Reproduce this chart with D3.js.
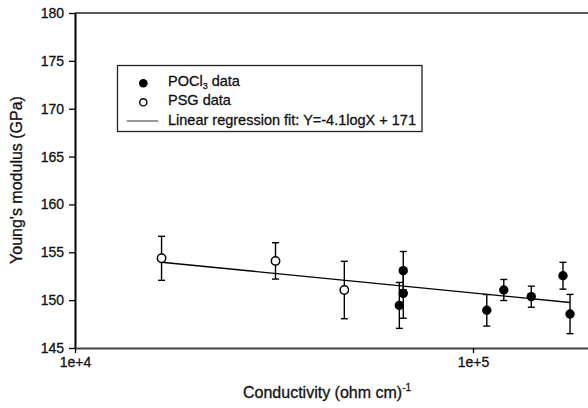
<!DOCTYPE html>
<html>
<head>
<meta charset="utf-8">
<script src="https://cdn.jsdelivr.net/npm/d3@7"></script>
<style>
  body { margin: 0; background: #fff; }
  text { font-family: "Liberation Sans", Arial, sans-serif; fill: #111; stroke: #111; stroke-width: 0.3px; }
</style>
</head>
<body>
<div id="chart"></div>
<script>
// data
let pocX = [6.68e4, 6.68e4, 6.53e4, 1.083e5, 1.195e5, 1.401e5, 1.683e5, 1.753e5]
let pocY = [153.08, 150.71, 149.45, 148.94, 151.06, 150.36, 152.55, 148.55]
let pocErr = [2.0, 2.6, 2.4, 1.65, 1.1, 1.1, 1.4, 2.05]

let psgX = [1.65e4, 3.19e4, 4.75e4]
let psgY = [154.37, 154.1, 151.06]
let psgErr = [2.3, 1.9, 3.0]

let fitSlope = -4.1, fitIntercept = 171.25
let fitX = [1.65e4, 1.753e5]

let xTicks = [1e4, 1e5]
let xTickLabels = ["1e+4", "1e+5"]
let yTicks = [145, 150, 155, 160, 165, 170, 175, 180]

let width = 588, height = 408
let plotLeft = 75, plotTop = 13, plotBottom = 348

let svg = d3.select("#chart").append("svg")
    .attr("width", width)
    .attr("height", height)

let x = d3.scaleLog().domain([1e4, 2e5]).range([plotLeft, plotLeft + 398 * Math.log10(20)])
let y = d3.scaleLinear().domain([145, 180]).range([plotBottom, plotTop])

// top frame line
svg.append("line")
    .attr("x1", plotLeft).attr("x2", width)
    .attr("y1", plotTop).attr("y2", plotTop)
    .attr("stroke", "#222").attr("stroke-width", 1.5)

// y axis
let yAxis = svg.append("g")
    .attr("transform", "translate(" + plotLeft + ",0)")
    .call(d3.axisLeft(y).tickValues(yTicks).tickSize(6).tickPadding(5).tickSizeOuter(0))
yAxis.select(".domain").attr("stroke", "#000").attr("stroke-width", 2)
yAxis.selectAll(".tick line").attr("stroke", "#000").attr("stroke-width", 1.3)
yAxis.selectAll("text").style("font-size", "14px").style("font-family", "Liberation Sans, Arial, sans-serif").attr("fill", "#111")

// x axis
let xAxis = svg.append("g")
    .attr("transform", "translate(0," + plotBottom + ")")
    .call(d3.axisBottom(x).tickValues(xTicks).tickSize(5).tickPadding(4).tickSizeOuter(0)
        .tickFormat(function (d, i) { return xTickLabels[i]; }))
xAxis.select(".domain").attr("stroke", "#444").attr("stroke-width", 2)
xAxis.selectAll(".tick line").attr("stroke", "#000").attr("stroke-width", 1.3)
xAxis.selectAll("text").style("font-size", "14px").style("font-family", "Liberation Sans, Arial, sans-serif").attr("fill", "#111")

// axis titles
svg.append("text")
    .attr("x", 243).attr("y", 398)
    .style("font-size", "16px")
    .html('Conductivity (ohm cm)<tspan dy="-7" style="font-size:10px">-1</tspan>')

svg.append("text")
    .attr("transform", "translate(22,180) rotate(-90)")
    .attr("text-anchor", "middle")
    .style("font-size", "16px")
    .text("Young's modulus (GPa)")

// error bars
function errorBars(xs, ys, es) {
    let g = svg.append("g").attr("stroke", "#000").attr("stroke-width", 1.4)
    xs.forEach(function (d, i) {
        let cx = x(d)
        g.append("line").attr("x1", cx).attr("x2", cx)
            .attr("y1", y(ys[i] + es[i])).attr("y2", y(ys[i] - es[i]))
        g.append("line").attr("x1", cx - 3.5).attr("x2", cx + 3.5)
            .attr("y1", y(ys[i] + es[i])).attr("y2", y(ys[i] + es[i]))
        g.append("line").attr("x1", cx - 3.5).attr("x2", cx + 3.5)
            .attr("y1", y(ys[i] - es[i])).attr("y2", y(ys[i] - es[i]))
    })
}
errorBars(psgX, psgY, psgErr)
errorBars(pocX, pocY, pocErr)

// regression line
let fitLine = d3.line()
    .x(function (d) { return x(d); })
    .y(function (d) { return y(fitSlope * Math.log10(d) + fitIntercept); })
svg.append("path")
    .datum(fitX)
    .attr("d", fitLine)
    .attr("fill", "none")
    .attr("stroke", "#000")
    .attr("stroke-width", 1.4)

// markers
svg.append("g").selectAll("circle")
    .data(psgX)
    .enter()
    .append("circle")
    .attr("cx", function (d) { return x(d); })
    .attr("cy", function (d, i) { return y(psgY[i]); })
    .attr("r", 4.2)
    .attr("fill", "#fff")
    .attr("stroke", "#000")
    .attr("stroke-width", 1.5)

svg.append("g").selectAll("circle")
    .data(pocX)
    .enter()
    .append("circle")
    .attr("cx", function (d) { return x(d); })
    .attr("cy", function (d, i) { return y(pocY[i]); })
    .attr("r", 4.7)
    .attr("fill", "#000")

// legend
let legend = svg.append("g")
legend.append("rect")
    .attr("x", 117.5).attr("y", 65.5)
    .attr("width", 304.5).attr("height", 66)
    .attr("fill", "#fff")
    .attr("stroke", "#222").attr("stroke-width", 1.3)
legend.append("circle").attr("cx", 143.3).attr("cy", 83.3).attr("r", 4.3).attr("fill", "#000")
legend.append("circle").attr("cx", 143.3).attr("cy", 102.3).attr("r", 3.6)
    .attr("fill", "#fff").attr("stroke", "#000").attr("stroke-width", 1.4)
legend.append("line").attr("x1", 126.7).attr("x2", 158.3).attr("y1", 121).attr("y2", 121)
    .attr("stroke", "#333").attr("stroke-width", 1.2)

legend.append("text").attr("x", 168).attr("y", 85.5).style("font-size", "14.5px")
    .html('POCl<tspan dy="3" style="font-size:9px">3</tspan><tspan dy="-3"> data</tspan>')
legend.append("text").attr("x", 168).attr("y", 104.5).style("font-size", "14.5px")
    .text("PSG data")
legend.append("text").attr("x", 168).attr("y", 124.5).style("font-size", "14.5px")
    .text("Linear regression fit: Y=-4.1logX + 171")
</script>
</body>
</html>
